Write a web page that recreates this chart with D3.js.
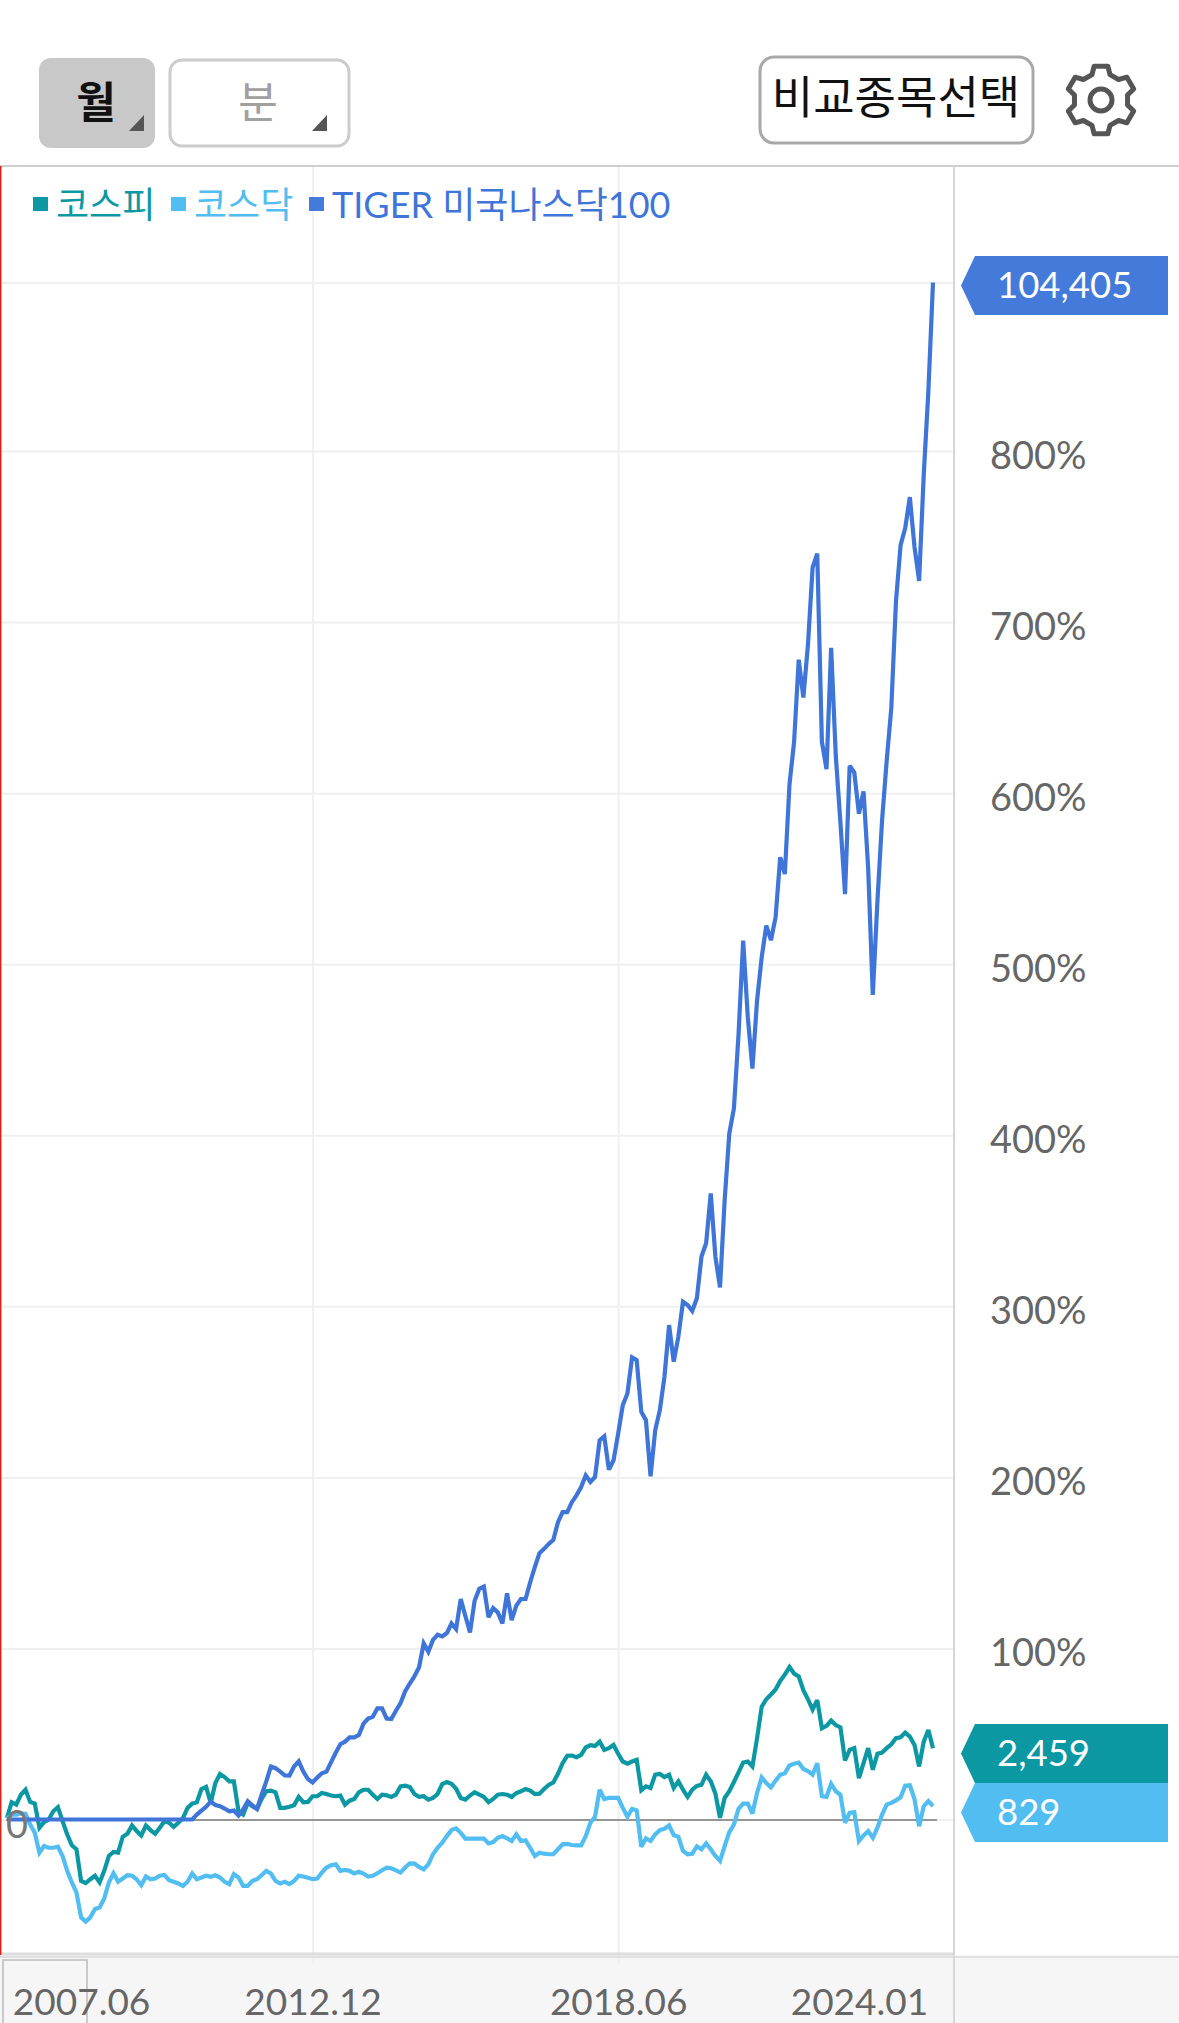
<!DOCTYPE html>
<html lang="ko"><head><meta charset="utf-8">
<script src="https://cdn.jsdelivr.net/npm/d3@7/dist/d3.min.js"></script>
<style>
html,body{margin:0;padding:0;background:#fff}
svg{display:block}
text{font-family:Lato,"Noto Sans CJK KR",sans-serif}
</style></head><body>
<svg id="c" width="1179" height="2023"></svg>
<script>
// ---- data (percent change from the start, monthly, 201 points) ----
const seriesNames = ["코스피","코스닥","TIGER 미국나스닥100"];
const lastValues = ["2,459","829","104,405"];
const yTickValues = [100,200,300,400,500,600,700,800];
const yGridValues = [0,100,200,300,400,500,600,700,800,898.5];
const xTickLabels = ["2007.06","2012.12","2018.06","2024.01"];
const xTickIndex = [16,66,132,184];
const xGridIndex = [66,132];
const kospi = [1,10.1,8.7,14.5,17.4,10.3,9.3,-4.8,-1.6,0,4.8,7.2,-1,-8.7,-15.1,-17.4,-35.9,-37.2,-34.9,-32.9,-36.8,-30,-21.3,-19,-19.4,-10.1,-8.3,-3.5,-6.8,-9.3,-3.5,-6.2,-8.3,-4.8,-1,-1.9,-4.3,-1.9,0.8,6.8,9.3,10.1,17.8,19,9.7,21.3,26.6,24.8,22.3,22.3,4.8,2.9,9.7,7.8,6.2,12,16.5,16.9,15.9,6.8,6.8,7.4,8.3,13.2,10.1,10.3,13.6,13.6,15.5,14.9,14,13.6,14,8.7,11,12,15.9,17.4,17.4,14.5,12,14.5,14.1,13.2,14.5,19.4,19.8,19,14.9,13.2,13.6,11.6,12.6,14.9,20.7,21.9,20.9,18,12.6,11.6,14,15.9,14.5,13.2,10.1,12,14.5,14.9,14.5,13.2,15.5,16.5,17.8,16.9,14.9,15.1,17.8,20.2,21.7,26.7,32.9,37.2,37.4,36.4,37.8,42.2,43.4,43,45.5,40.7,41.7,43.6,38.4,33.9,32.6,33.9,34.9,17.1,19.4,18.4,26.2,26.6,24.8,26.2,18.4,22.3,17.4,13.2,17.4,19.6,20.3,26.2,22.3,15.1,1,12.6,16.5,21.9,27.5,33.3,33.9,31,47.5,65.9,70.3,73.1,76,81,84.7,89.1,85.3,83.7,75.6,70.2,64.3,69.8,53.3,54.7,57.8,55.2,53.9,34.5,40.7,41.7,24.2,32.9,41.7,29.1,38.4,39.1,41.7,44,47.5,48.1,50.8,48.4,43.6,31,45.5,52.3,41.7];
const kosdaq = [0.4,2.9,2.9,3.5,3.3,-2.9,-7.8,-19.4,-15.5,-16.5,-16.5,-15.9,-21.3,-30,-36.8,-42.6,-57.2,-59.7,-57.2,-52.3,-51.4,-46.1,-36.8,-31.4,-36.4,-34.5,-32.6,-32.9,-34.9,-38.4,-33.3,-34.9,-34.5,-32.9,-32.4,-35.5,-36.4,-37.4,-38.8,-36.4,-31.6,-34.9,-33.9,-32.9,-33.5,-32.6,-33.9,-36.4,-37.8,-32,-33.9,-38.8,-38.8,-35.9,-34.9,-32.6,-30,-31.6,-35.9,-37.4,-36.4,-37.8,-35.9,-32.9,-33.3,-34.1,-34.9,-34.5,-31,-28.1,-26.7,-26.2,-30,-29.5,-30,-31.6,-30.6,-31.6,-33.3,-32.9,-31.4,-29.7,-28.1,-28.5,-29.7,-31,-28.1,-25.6,-25.8,-27.7,-29.1,-26.2,-20.3,-16.5,-13.6,-9.7,-6.2,-5.2,-7.8,-11.2,-11.2,-11.2,-11.2,-11.2,-14,-13.2,-10.7,-9.7,-11,-12.6,-8.7,-12.6,-12.2,-16.5,-21.3,-19.4,-20,-20.3,-20.3,-17.4,-14.5,-14.3,-14.9,-15.1,-15.1,-9.7,-1.9,1.6,17.4,12,12.6,12.6,12.6,6.8,1.6,6.2,5.4,-15.9,-11,-12.6,-8.7,-6.2,-5.4,-3.5,-9.1,-10.1,-18.4,-20.3,-20,-15.7,-17.4,-14,-17.4,-21.3,-24.2,-15.5,-7.4,-2.9,6.2,9.3,9.3,3.5,15.5,24.6,21.3,18.8,22.7,26.2,27.1,31.6,32.6,33.3,29.5,28.3,26.2,32.9,13.6,13.2,20.9,16.5,14.5,-1.9,3.9,4.3,-12.6,-9.3,-6.8,-10.7,-4.8,2.9,8.7,9.7,11.2,13,19.8,20,12,-3.9,7.8,10.7,7.8];
const tigerNasdaq = [0,0,0,0,0,0,0,0,0,0,0,0,0,0,0,0,0,0,0,0,0,0,0,0,0,0,0,0,0,0,0,0,0,0,0,0,0,0,0,0,0,2.9,5.2,7.4,10.5,8.5,7.8,6.4,4.8,5.2,2.3,5.8,10.7,8.3,6.2,14.5,22.3,31,30,28,25.8,25.7,31,34,28,23.6,21.7,24.5,27,28,33.5,39,44,45.5,48,48,49.4,56,59,60,65,65,59,58.7,63.6,68,75,79.5,83.7,89,103,98,105,108,107,109,114.6,111.3,128.9,119,109.4,127.9,134.8,136.1,118.2,123.6,121.1,114.6,132.2,116.6,125,128.9,128.9,138.7,147.5,155.7,158.2,161.1,163.5,173.8,179.7,179.7,185.5,189.5,194.3,201.2,197.3,200.2,221.7,224,204.5,210,225.6,242.2,249,270.1,268.6,238.3,233.4,200.6,227.5,239.3,258.8,289,267.6,282.2,302.7,300.8,297.3,304.7,329.1,336.9,366,329,311,362,401,415.6,459,513.8,469,439,478.8,504,522.6,514,527.4,562.5,552.7,605,630,678,655.9,687,732,740,630,614,685,622,583,541,616,612,588,601,556,482,537,584,619,650,712,745,755,773,744,724,786,835,898.5];
// ---- end data ----

const colors = ["#0b98a3","#52bdf0","#3f75d8"];
const tagColors = ["#0b98a3","#52bdf0","#447ad9"];
const svg = d3.select("#c");
const x = d3.scaleLinear().domain([0,kospi.length-1]).range([7,933]);
const y = d3.scaleLinear().domain([0,800]).range([1819.5,451]);
const plotRight = 954, plotTop = 166, plotBottom = 1955;

// bottom band
svg.append("rect").attr("x",0).attr("y",plotBottom).attr("width",1179).attr("height",2023-plotBottom).attr("fill","#f6f6f6");

// grid through axes
const gridH = svg.append("g")
  .call(d3.axisRight(y).tickValues(yGridValues).tickSize(plotRight).tickFormat(""));
gridH.select(".domain").remove();
gridH.selectAll("line").attr("stroke","#f0f0f0").attr("stroke-width",2);
const gridV = svg.append("g").attr("transform",`translate(0,${plotTop})`)
  .call(d3.axisBottom(x).tickValues(xGridIndex).tickSize(plotBottom-plotTop+8).tickFormat(""));
gridV.select(".domain").remove();
gridV.selectAll("line").attr("stroke","#f0f0f0").attr("stroke-width",2);

// frame
const frame = svg.append("g");
frame.append("line").attr("x1",0).attr("x2",1179).attr("y1",plotTop).attr("y2",plotTop).attr("stroke","#cfcfcf").attr("stroke-width",2);
frame.append("line").attr("x1",0).attr("x2",plotRight).attr("y1",plotBottom-1).attr("y2",plotBottom-1).attr("stroke","#dddddd").attr("stroke-width",3);
frame.append("line").attr("x1",0).attr("x2",1179).attr("y1",plotBottom+2).attr("y2",plotBottom+2).attr("stroke","#d8d8d8").attr("stroke-width",1.5);
frame.append("line").attr("x1",plotRight).attr("x2",plotRight).attr("y1",plotTop).attr("y2",2023).attr("stroke","#d6d6d6").attr("stroke-width",2);
frame.append("line").attr("x1",0.75).attr("x2",0.75).attr("y1",plotTop).attr("y2",plotBottom).attr("stroke","#d8261c").attr("stroke-width",1.5);
frame.append("rect").attr("x",3).attr("y",1960).attr("width",84).attr("height",70).attr("fill","none").attr("stroke","#bbbbbb").attr("stroke-width",1.5);

// zero line
svg.append("line").attr("x1",6).attr("x2",937).attr("y1",y(0)+0.5).attr("y2",y(0)+0.5).attr("stroke","#777777").attr("stroke-width",1.6);

// series
const line = d3.line().x((d,i)=>x(i)).y(d=>y(d));
[kospi,kosdaq,tigerNasdaq].forEach((s,k)=>{
  svg.append("path").datum(s).attr("d",line).attr("fill","none")
    .attr("stroke",colors[k]).attr("stroke-width",4.2).attr("stroke-linejoin","miter").attr("stroke-miterlimit",3);
});

// y labels
const yAxis = svg.append("g").attr("transform",`translate(${plotRight+36},0)`)
  .call(d3.axisRight(y).tickValues(yTickValues).tickSize(0).tickPadding(0).tickFormat(d=>d+"%"));
yAxis.select(".domain").remove();
yAxis.selectAll("text").attr("font-size",38).attr("fill","#666").attr("dy","0.46em").style("font-family","Lato");
svg.append("text").attr("x",6).attr("y",y(0)+18).attr("font-size",38).attr("fill","#777").text("0");

// x labels
const xAxis = svg.append("g").attr("transform","translate(0,1984)")
  .call(d3.axisBottom(x).tickValues(xTickIndex).tickSize(0).tickPadding(0).tickFormat((d,i)=>xTickLabels[i]));
xAxis.select(".domain").remove();
xAxis.selectAll("text").attr("font-size",37).attr("fill","#666").attr("dy","0.85em").style("font-family","Lato");

// legend
const legendSquareX=[33,171,309], legendTextX=[56,194,332];
seriesNames.forEach((n,k)=>{
  svg.append("rect").attr("x",legendSquareX[k]).attr("y",197).attr("width",15).attr("height",14).attr("fill",tagColors[k]);
  svg.append("text").attr("x",legendTextX[k]).attr("y",218).attr("font-size",36).attr("fill",colors[k]).text(n);
});

// value tags
const tagY=[1724,1783,256], tagH=[59,59,59];
lastValues.forEach((t,k)=>{
  const top=tagY[k], h=tagH[k];
  svg.append("path").attr("d",`M975,${top}H1168V${top+h}H975L961,${top+h/2}Z`).attr("fill",tagColors[k]);
  svg.append("text").attr("x",997).attr("y",top+h/2+12).attr("font-size",36.5).attr("fill","#fff").text(t);
});

// buttons
const ui = svg.append("g");
ui.append("rect").attr("x",39).attr("y",58).attr("width",116).attr("height",90).attr("rx",12).attr("fill","#c8c8c8");
ui.append("text").attr("x",96).attr("y",118).attr("text-anchor","middle").attr("font-size",43).attr("font-weight",700).attr("fill","#111").text("월");
ui.append("path").attr("d","M144,115V131H129Z").attr("fill","#555");
ui.append("rect").attr("x",170).attr("y",60).attr("width",179).attr("height",86).attr("rx",12).attr("fill","#fff").attr("stroke","#cccccc").attr("stroke-width",3);
ui.append("text").attr("x",258).attr("y",118).attr("text-anchor","middle").attr("font-size",43).attr("fill","#a0a0a0").text("분");
ui.append("path").attr("d","M327,115V131H312Z").attr("fill","#555");
ui.append("rect").attr("x",760).attr("y",57).attr("width",273).attr("height",86).attr("rx",14).attr("fill","#fff").attr("stroke","#a8a8a8").attr("stroke-width",3);
ui.append("text").attr("x",896).attr("y",114).attr("text-anchor","middle").attr("font-size",45).attr("fill","#111").text("비교종목선택");

// gear icon
const gear=[];
d3.range(6).forEach(k=>{
  const a=k*Math.PI/3;
  [[-0.34,27],[-0.2,34.5],[0.2,34.5],[0.34,27]].forEach(([da,r])=>gear.push([a+da,r]));
});
const gearG=ui.append("g").attr("transform","translate(1101,100)");
gearG.append("path").attr("d",d3.lineRadial().curve(d3.curveLinearClosed)(gear)).attr("fill","none").attr("stroke","#555").attr("stroke-width",5).attr("stroke-linejoin","round");
gearG.append("circle").attr("r",11).attr("fill","none").attr("stroke","#555").attr("stroke-width",5);
</script>
</body></html>
